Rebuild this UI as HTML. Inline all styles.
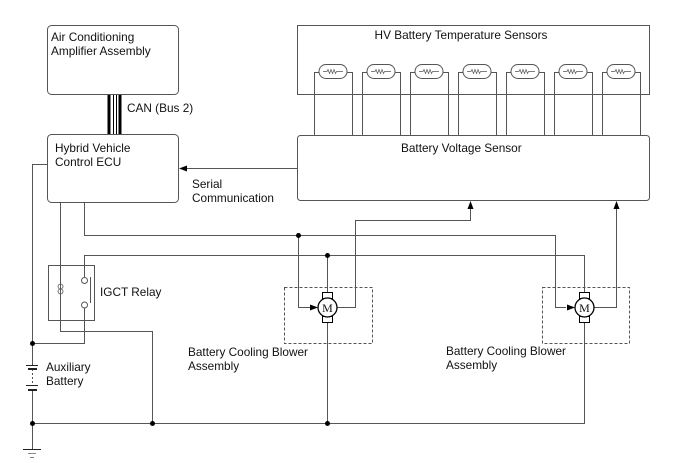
<!DOCTYPE html>
<html><head><meta charset="utf-8"><style>
body{margin:0;background:#fff}
svg{display:block}
text{font-family:"Liberation Sans",sans-serif;font-size:11.8px;fill:#111}
</style></head><body>
<svg width="688" height="463" viewBox="0 0 688 463" xmlns="http://www.w3.org/2000/svg">
<g fill="none" stroke="#555" stroke-width="1">
<rect x="47.5" y="25.5" width="131" height="69" rx="4"/>
<rect x="47.5" y="134.5" width="131" height="68" rx="4"/>
<rect x="297.5" y="25.5" width="352" height="69"/>
<rect x="297.5" y="135.5" width="352" height="65" rx="3"/>
</g>
<g stroke="#000">
<line x1="109" y1="95" x2="109" y2="134" stroke-width="3"/>
<line x1="113.5" y1="95" x2="113.5" y2="134" stroke-width="1"/>
<line x1="116.5" y1="95" x2="116.5" y2="134" stroke-width="1"/>
<line x1="120" y1="95" x2="120" y2="134" stroke-width="3"/>
</g>
<text x="127" y="112">CAN (Bus 2)</text>
<text x="51" y="41">Air Conditioning</text>
<text x="51" y="55">Amplifier Assembly</text>
<text x="55" y="152">Hybrid Vehicle</text>
<text x="55" y="166">Control ECU</text>
<text x="461" y="39" text-anchor="middle">HV Battery Temperature Sensors</text>
<text x="401" y="152">Battery Voltage Sensor</text>
<text x="192" y="188">Serial</text>
<text x="192" y="202">Communication</text>
<text x="100" y="296">IGCT Relay</text>
<text x="46" y="371">Auxiliary</text>
<text x="46" y="385">Battery</text>
<text x="188" y="356">Battery Cooling Blower</text>
<text x="188" y="370">Assembly</text>
<text x="446" y="355">Battery Cooling Blower</text>
<text x="446" y="369">Assembly</text>

<g fill="none" stroke="#555">
<g id="th">
<path d="M314.5 135 V72.5 H319 M347 72.5 H352.5 V135"/>
<rect x="319" y="64.5" width="28" height="14" rx="7"/>
<path d="M323 71.5 H327 l1 -2 l1.5 4 l1.5 -4 l1.5 4 l1.5 -4 l1.5 4 l1 -2 H343" stroke-width="0.7"/>
</g>
<use href="#th" x="48"/><use href="#th" x="96"/><use href="#th" x="144"/><use href="#th" x="192"/><use href="#th" x="240"/><use href="#th" x="288"/>
</g>

<g fill="none" stroke="#555">
<path d="M297 168.5 H186"/>
<path d="M47 164.5 H32.5 V365 M32.5 390 V449"/>
<path d="M60.5 202 V331.5 H152.5 V423"/>
<path d="M84.5 202 V235.5 H555.5 V307.5 H566"/>
<path d="M298.5 235.5 V307.5 H310"/>
<path d="M84.5 277 V255.5 H584.5 V423.5 H32.5"/>
<path d="M327.5 255.5 V298 M327.5 322 V423"/>
<path d="M84.5 308 V343.5 H32.5"/>
<path d="M336 307.5 H355.5 V220.5 H470.5 V209"/>
<path d="M593 307.5 H616.5 V209"/>
<rect x="48.5" y="265.5" width="46" height="55"/>
<circle cx="84.5" cy="280.5" r="3" fill="#fff"/>
<circle cx="84.5" cy="305" r="3" fill="#fff"/>
<line x1="90.5" y1="277" x2="90.5" y2="303"/>
<path d="M60.5 284 a2.5 2.5 0 0 0 0 5 a2.5 2.5 0 0 0 0 5 a2.5 2.5 0 0 0 0 -5 a2.5 2.5 0 0 0 0 -5" stroke-width="0.8"/>
<rect x="284.5" y="287.5" width="88" height="56" stroke-dasharray="3,2"/>
<rect x="542.5" y="287.5" width="87" height="56" stroke-dasharray="3,2"/>
<path d="M32.5 369 V385" stroke-dasharray="2,2"/>
</g>
<g stroke="#222">
<line x1="26" y1="365.5" x2="38" y2="365.5"/>
<line x1="28" y1="369" x2="37" y2="369" stroke-width="2"/>
<line x1="26" y1="385.5" x2="38" y2="385.5"/>
<line x1="28" y1="390" x2="37" y2="390" stroke-width="2"/>
<line x1="23" y1="449.5" x2="41" y2="449.5"/>
<line x1="28" y1="453.5" x2="36" y2="453.5" stroke="#888"/>
<line x1="30" y1="457.5" x2="34" y2="457.5" stroke="#888"/>
</g>
<g fill="#000">
<polygon points="179,168.5 187,165.5 187,171.5"/>
<polygon points="470.5,201 467.5,209 473.5,209"/>
<polygon points="616.5,201 613.5,209 619.5,209"/>
<polygon points="318,307.5 310,304.5 310,310.5"/>
<polygon points="575,307.5 567,304.5 567,310.5"/>
</g>
<g id="mo" stroke="#000" fill="#fff">
<rect x="322.5" y="292.5" width="10" height="6"/>
<rect x="322.5" y="316.5" width="10" height="6"/>
<circle cx="327.5" cy="307.5" r="9.5" stroke-width="1.3"/>
<text x="327.5" y="312" text-anchor="middle" style="font-family:'Liberation Serif',serif;font-size:12px" stroke="none" fill="#000">M</text>
</g>
<use href="#mo" x="257"/>
<g fill="#000">
<circle cx="298.5" cy="235.5" r="2.5"/>
<circle cx="327.5" cy="255.5" r="2.5"/>
<circle cx="32.5" cy="343.5" r="2.5"/>
<circle cx="32.5" cy="423.5" r="2.5"/>
<circle cx="152.5" cy="423.5" r="2.5"/>
<circle cx="327.5" cy="423.5" r="2.5"/>
</g>
</svg>
</body></html>
